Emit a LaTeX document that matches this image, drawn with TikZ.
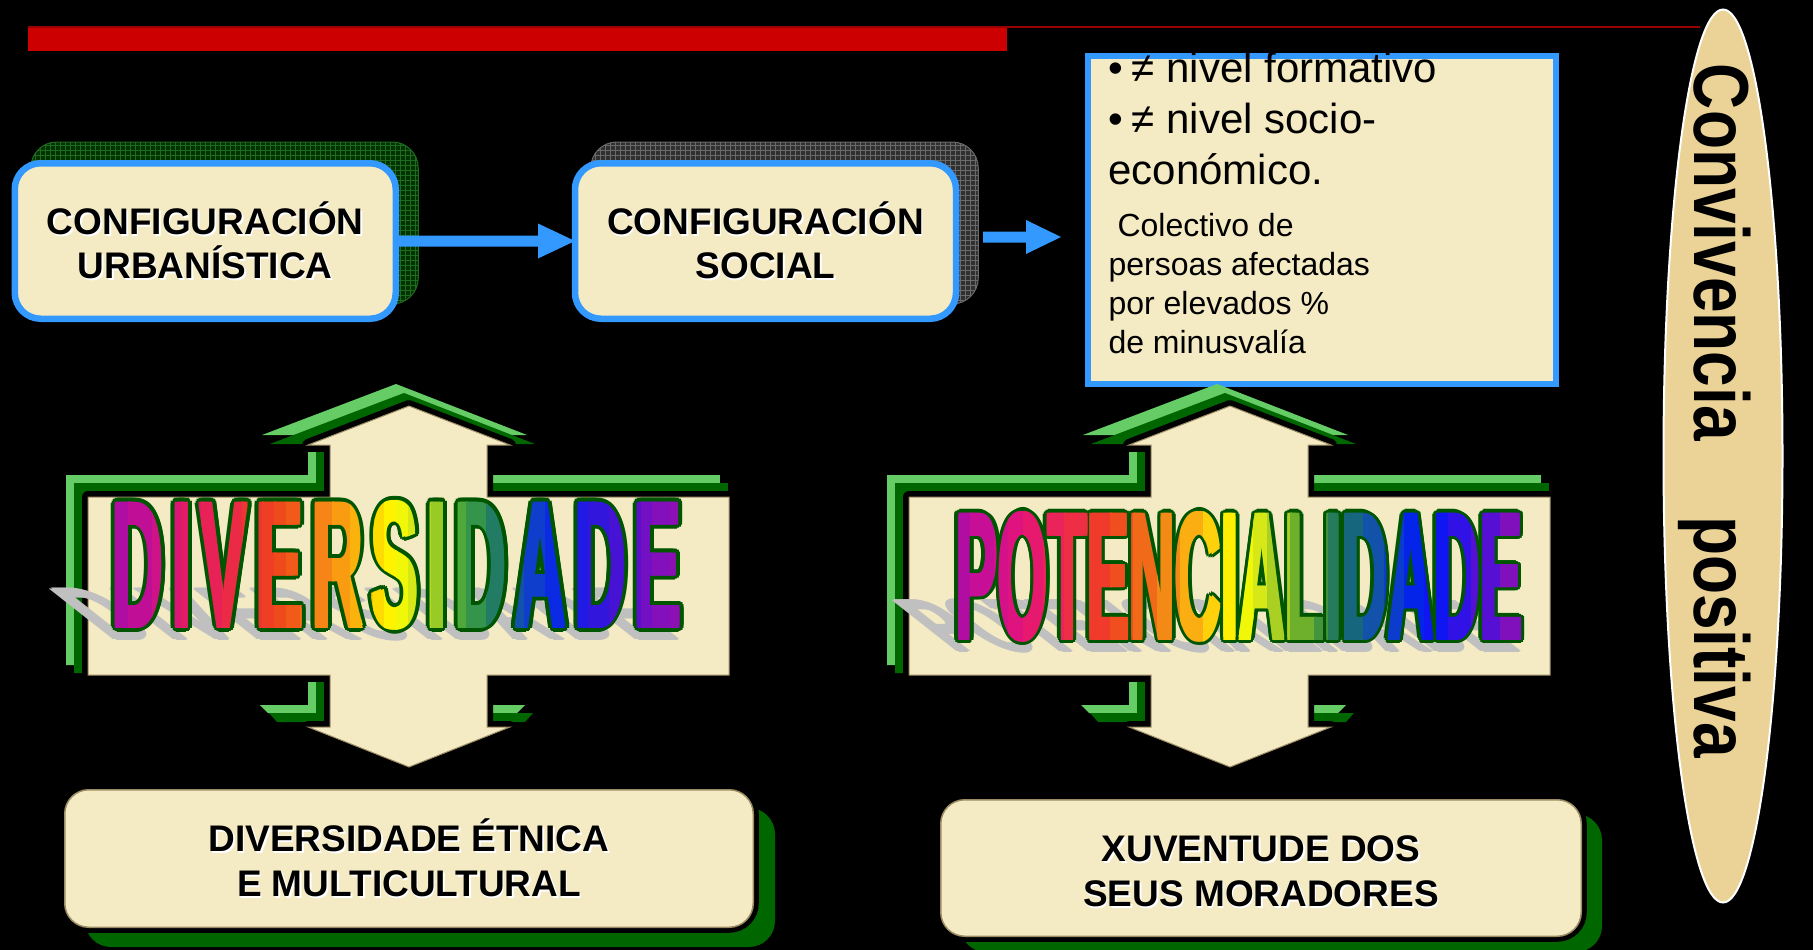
\documentclass[tikz,border=0pt]{standalone}
\usepackage{fontspec}
\setmainfont{Liberation Sans}
\usepackage{graphicx}
\usetikzlibrary{calc,shapes.geometric}

\definecolor{cream}{HTML}{F4EBC4}
\definecolor{boxblue}{HTML}{3399FF}
\definecolor{lgreen}{HTML}{66CC66}
\definecolor{dgreen}{HTML}{006600}
\definecolor{barred}{HTML}{CC0000}
\definecolor{linered}{HTML}{990000}
\definecolor{ellfill}{HTML}{EBD398}
\definecolor{shgray}{HTML}{C0C0C0}
\definecolor{outgreen}{HTML}{005500}
\definecolor{gridgreen}{HTML}{003300}
\definecolor{gridgreenl}{HTML}{1F6B1F}
\definecolor{gridgray}{HTML}{303030}
\definecolor{gridgrayl}{HTML}{6A6A6A}
\definecolor{tanline}{HTML}{9C8C64}

% rainbow stops for DIVERSIDADE
\definecolor{dv0}{HTML}{A80CA8}\definecolor{dv1}{HTML}{C81090}
\definecolor{dv2}{HTML}{E0186E}\definecolor{dv3}{HTML}{EA2450}
\definecolor{dv4}{HTML}{EE3A28}\definecolor{dv5}{HTML}{F05018}
\definecolor{dv6}{HTML}{F47818}\definecolor{dv7}{HTML}{FAA810}
\definecolor{dv8}{HTML}{FFD000}\definecolor{dv9}{HTML}{FFFF00}
\definecolor{dv10}{HTML}{C8E020}\definecolor{dv11}{HTML}{88C428}
\definecolor{dv12}{HTML}{3CA040}\definecolor{dv13}{HTML}{1A7070}
\definecolor{dv14}{HTML}{1048C0}\definecolor{dv15}{HTML}{0A20F0}
\definecolor{dv16}{HTML}{2818E0}\definecolor{dv17}{HTML}{5010D0}
\definecolor{dv18}{HTML}{8010C0}\definecolor{dv19}{HTML}{9010B0}

% rainbow stops for POTENCIALIDADE
\definecolor{pt0}{HTML}{A80CA8}\definecolor{pt1}{HTML}{D01090}
\definecolor{pt2}{HTML}{E4147A}\definecolor{pt3}{HTML}{EC2850}
\definecolor{pt4}{HTML}{F04020}\definecolor{pt5}{HTML}{F07818}
\definecolor{pt6}{HTML}{FFC010}\definecolor{pt7}{HTML}{FFFF00}
\definecolor{pt8}{HTML}{C8E020}\definecolor{pt9}{HTML}{50A030}
\definecolor{pt10}{HTML}{187068}\definecolor{pt11}{HTML}{1048C0}
\definecolor{pt12}{HTML}{0018F8}\definecolor{pt13}{HTML}{4010E0}
\definecolor{pt14}{HTML}{9510B0}

\newcommand{\lsp}{\hspace{0.12em}}
\newcommand{\divword}{\resizebox{569pt}{125pt}{\bfseries D\lsp I\lsp V\lsp E\lsp R\lsp S\lsp I\lsp D\lsp A\lsp D\lsp E}}
\newcommand{\potword}{\resizebox{567pt}{126pt}{\bfseries POTENCIALIDADE}}
\newcommand{\wsh}[1]{\makebox[0pt][l]{\hspace{1.6pt}\raisebox{-1.6pt}{\textcolor{white}{#1}}}#1}

\begin{document}
\begin{tikzpicture}[x=1pt,y=-1pt,
  every node/.style={inner sep=0pt,outer sep=0pt},
  topbox/.style={rectangle,rounded corners=26pt,draw=boxblue,line width=6.5pt,fill=cream,
    minimum width=381pt,minimum height=155.5pt,align=center,
    font=\fontsize{37}{44}\selectfont\bfseries},
  gridshadow/.style={rectangle,rounded corners=26pt,minimum width=387.5pt,minimum height=162pt},
  botbox/.style={rectangle,rounded corners=24pt,fill=cream,draw=tanline,line width=1.5pt,
    preaction={draw=black,line width=11pt}},
  bottext/.style={align=center,font=\fontsize{37}{45}\selectfont\bfseries},
  botshadow/.style={rectangle,rounded corners=26pt,fill=dgreen},
  bigline/.style={anchor=base west,font=\fontsize{42}{50}\selectfont},
  smallline/.style={anchor=base west,font=\fontsize{32}{39}\selectfont},
  crossfill/.style={fill=cream,draw=tanline,line width=1pt,
    preaction={draw=black,line width=12pt,line join=round}},
]
\useasboundingbox (0,0) rectangle (1813,950);
\fill[black] (0,0) rectangle (1813,950);

% top red bar
\fill[barred] (28,27) rectangle (1007,51);
\draw[linered,line width=2pt] (28,27) -- (1700,27);

% shadows of the top boxes
\node[gridshadow,fill=gridgreen,draw=gridgreenl,line width=1pt] (s1) at (224.5,223) {};
\begin{scope}
  \clip[rounded corners=26pt] (s1.south west) rectangle (s1.north east);
  \draw[gridgreenl,line width=0.7pt,step=5pt] (s1.south west) grid (s1.north east);
\end{scope}
\node[gridshadow,fill=gridgray,draw=gridgrayl,line width=1pt] (s2) at (784.5,223) {};
\begin{scope}
  \clip[rounded corners=26pt] (s2.south west) rectangle (s2.north east);
  \draw[gridgrayl,line width=0.7pt,step=5pt] (s2.south west) grid (s2.north east);
\end{scope}

% top boxes
\node[topbox] (b1) at (205.25,241) {\wsh{CONFIGURACIÓN}\\\wsh{URBANÍSTICA}};
\node[topbox] (b2) at (765.5,241) {\wsh{CONFIGURACIÓN}\\\wsh{SOCIAL}};

% arrow b1 -> b2
\fill[boxblue] ($(b1.east)+(0,-5.5)$) -- ($(b2.west)+(-37,-5.5)$) -- ($(b2.west)+(-37,-17.5)$)
  -- (b2.west) -- ($(b2.west)+(-37,17.5)$) -- ($(b2.west)+(-37,5.5)$) -- ($(b1.east)+(0,5.5)$) -- cycle;

% free arrow towards the text box
\coordinate (a2s) at (983,237);
\coordinate (a2e) at (1061,237);
\fill[boxblue] ($(a2s)+(0,-5.5)$) -- ($(a2e)+(-35,-5.5)$) -- ($(a2e)+(-35,-17)$) -- (a2e)
  -- ($(a2e)+(-35,17)$) -- ($(a2e)+(-35,5.5)$) -- ($(a2s)+(0,5.5)$) -- cycle;

% text box
\node[rectangle,draw=boxblue,line width=6pt,fill=cream,minimum width=468pt,minimum height=328pt] (tb) at (1322,220) {};
\node[bigline] (tl1) at (1108,83) {•\hspace{9pt}≠ nivel formativo};
\node[bigline] (tl2) at (1108,133.5) {•\hspace{9pt}≠ nivel socio-};
\node[bigline] (tl3) at (1108.5,184) {económico.};
\node[smallline] (tl4) at (1108.5,236) {\hspace*{9pt}Colectivo de};
\node[smallline] (tl5) at (1108.5,275) {persoas afectadas};
\node[smallline] (tl6) at (1108.5,314) {por elevados \%};
\node[smallline] (tl7) at (1108.5,353) {de minusvalía};

% the two double-arrow crosses
\foreach \gx in {0,821}{
\begin{scope}[xshift=\gx pt]
  \fill[lgreen] (262,435) -- (396,384) -- (527,435) -- cycle;
  \fill[lgreen] (66,475) -- (308,475) -- (308,452) -- (345,452) -- (345,665) -- (66,665) -- cycle;
  \fill[lgreen] (470,475) rectangle (720,483);
  \fill[lgreen] (260,705) -- (308,705) -- (308,682) -- (345,682) -- (345,713) -- (268,713) -- cycle;
  \fill[lgreen] (470,705) -- (525,705) -- (517,713) -- (470,713) -- cycle;
  \fill[dgreen] (270,444) -- (404,393) -- (535,444) -- cycle;
  \fill[dgreen] (74,483) -- (316,483) -- (316,452) -- (345,452) -- (345,673) -- (74,673) -- cycle;
  \fill[dgreen] (470,483) rectangle (728,491);
  \fill[dgreen] (269,713) -- (316,713) -- (316,682) -- (345,682) -- (345,722) -- (277,722) -- cycle;
  \fill[dgreen] (470,713) -- (533,713) -- (525,722) -- (470,722) -- cycle;
  \path[crossfill] (409,406) -- (510,445) -- (487,445) -- (487,497) -- (729,497) -- (729,675)
    -- (487,675) -- (487,727) -- (510,727) -- (409,767) -- (308,727) -- (330,727) -- (330,675)
    -- (88,675) -- (88,497) -- (330,497) -- (330,445) -- (308,445) -- cycle;
\end{scope}}

% DIVERSIDADE: shadow, outline, rainbow fill
\begin{scope}[shift={(397,640)},yscale=0.41,xslant=-0.52]
  \foreach \ang [count=\k] in {0,90,180,270}
    \node[transform shape,anchor=south,text=shgray] (dsh\k) at (\ang:2.5pt) {\divword};
\end{scope}
\foreach \ang [count=\k] in {0,22.5,...,337.5}
  \node[text=outgreen] (dol\k) at ($(397,565)+(\ang:5.5)$) {\divword};
\foreach \pa/\pb/\ca/\cb [count=\s] in {0/0.08/dv0/dv1,0.08/0.13/dv1/dv2,0.13/0.20/dv2/dv3,
   0.20/0.27/dv3/dv4,0.27/0.31/dv4/dv5,0.31/0.36/dv5/dv6,0.36/0.42/dv6/dv7,0.42/0.46/dv7/dv8,
   0.46/0.50/dv8/dv9,0.50/0.54/dv9/dv10,0.54/0.58/dv10/dv11,0.58/0.62/dv11/dv12,
   0.62/0.69/dv12/dv13,0.69/0.72/dv13/dv14,0.72/0.79/dv14/dv15,0.79/0.83/dv15/dv16,
   0.83/0.90/dv16/dv17,0.90/0.94/dv17/dv18,0.94/1.0/dv18/dv19}{
  \foreach \m in {0,1}{
    \pgfmathsetmacro\xa{106+582*(\pa+(\pb-\pa)*\m/2)-0.4}
    \pgfmathsetmacro\xb{106+582*(\pa+(\pb-\pa)*(\m+1)/2)+0.4}
    \pgfmathsetmacro\mix{75-50*\m}
    \begin{scope}
      \clip (\xa,480) rectangle (\xb,650);
      \node[text=\ca!\mix!\cb] (dvr-\s-\m-0) at (397,565) {\divword};
      \foreach \ang [count=\k] in {45,135,225,315}
        \node[text=\ca!\mix!\cb] (dvr-\s-\m-\k) at ($(397,565)+(\ang:2)$) {\divword};
    \end{scope}
  }
}

% POTENCIALIDADE
\begin{scope}[shift={(1239,652)},yscale=0.41,xslant=-0.52]
  \foreach \ang [count=\k] in {0,90,180,270}
    \node[transform shape,anchor=south,text=shgray] (psh\k) at (\ang:2.5pt) {\potword};
\end{scope}
\foreach \ang [count=\k] in {0,22.5,...,337.5}
  \node[text=outgreen] (pol\k) at ($(1239,576.5)+(\ang:5)$) {\potword};
\foreach \pa/\pb/\ca/\cb [count=\s] in {0/0.08/pt0/pt1,0.08/0.13/pt1/pt2,0.13/0.20/pt2/pt3,
   0.20/0.28/pt3/pt4,0.28/0.36/pt4/pt5,0.36/0.44/pt5/pt6,0.44/0.50/pt6/pt7,0.50/0.55/pt7/pt8,
   0.55/0.63/pt8/pt9,0.63/0.68/pt9/pt10,0.68/0.75/pt10/pt11,0.75/0.82/pt11/pt12,
   0.82/0.90/pt12/pt13,0.90/1.0/pt13/pt14}{
  \foreach \m in {0,1}{
    \pgfmathsetmacro\xa{948+582*(\pa+(\pb-\pa)*\m/2)-0.4}
    \pgfmathsetmacro\xb{948+582*(\pa+(\pb-\pa)*(\m+1)/2)+0.4}
    \pgfmathsetmacro\mix{75-50*\m}
    \begin{scope}
      \clip (\xa,490) rectangle (\xb,660);
      \node[text=\ca!\mix!\cb] (ptr-\s-\m-0) at (1239,576.5) {\potword};
      \foreach \ang [count=\k] in {45,135,225,315}
        \node[text=\ca!\mix!\cb] (ptr-\s-\m-\k) at ($(1239,576.5)+(\ang:2)$) {\potword};
    \end{scope}
  }
}

% bottom boxes
\node[botshadow,minimum width=690pt,minimum height=139pt] (b3s) at (430,877.5) {};
\node[botbox,minimum width=688.5pt,minimum height=137.5pt] (b3) at (409,858.5) {};
\node[bottext] (b3t) at (b3.center) {\wsh{DIVERSIDADE ÉTNICA}\\\wsh{E MULTICULTURAL}};
\node[botshadow,minimum width=642pt,minimum height=138pt] (b4s) at (1281,883) {};
\node[botbox,minimum width=640.5pt,minimum height=136.5pt] (b4) at (1261,868) {};
\node[bottext] (b4t) at ($(b4.center)+(0,4.5)$) {\wsh{XUVENTUDE DOS}\\\wsh{SEUS MORADORES}};

% ellipse
\node[ellipse,draw=white,line width=2pt,fill=ellfill,minimum width=119pt,minimum height=893pt] (ell) at (1723,456) {};
\node[rotate=-90,anchor=base west,font=\fontsize{78}{78}\selectfont\bfseries] (conv) at (1694,64)
  {\scalebox{0.82}[1]{Convivencia\hspace{92pt}positiva}};
\end{tikzpicture}
\end{document}
